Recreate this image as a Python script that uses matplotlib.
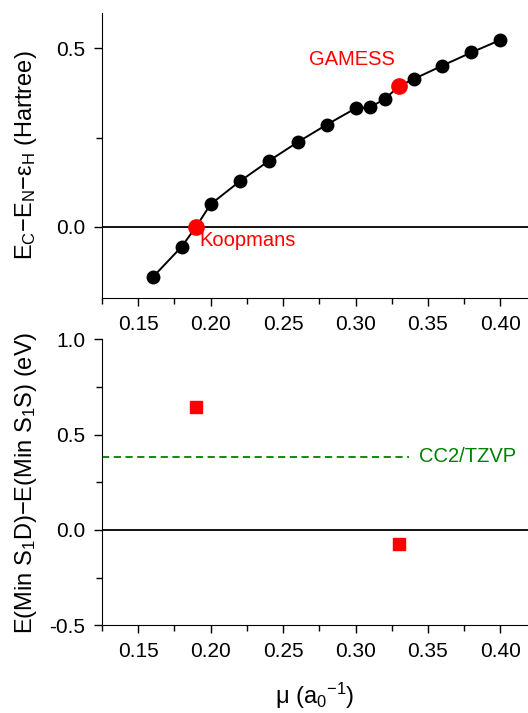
import matplotlib.pyplot as plt
import numpy as np

plt.rcParams['font.family'] = ['Liberation Sans', 'DejaVu Sans']
plt.rcParams['mathtext.fontset'] = 'custom'
plt.rcParams['mathtext.rm'] = 'Liberation Sans'
plt.rcParams['mathtext.it'] = 'Liberation Sans'

# range-separation parameter scan
mu = [0.16, 0.18, 0.19, 0.20, 0.22, 0.24, 0.26, 0.28, 0.30, 0.31, 0.32, 0.33, 0.34, 0.36, 0.38, 0.40]
gap = [-0.142, -0.056, 0.0, 0.063, 0.127, 0.184, 0.237, 0.286, 0.332, 0.335, 0.358, 0.394, 0.414, 0.452, 0.489, 0.524]

special_mu = [0.19, 0.33]
special_gap = [0.0, 0.394]
special_names = ["Koopmans", "GAMESS"]

# S1 minimum energy differences
diff_mu = [0.19, 0.33]
diff_ev = [0.645, -0.073]
cc2_ref = 0.385

fig = plt.figure(figsize=(5.28, 7.13), dpi=100)
ax1 = fig.add_axes([0.193, 0.582, 0.807, 0.400])
ax2 = fig.add_axes([0.193, 0.123, 0.807, 0.401])

fs = 15
for ax in (ax1, ax2):
    ax.spines['top'].set_visible(False)
    ax.spines['right'].set_visible(False)
    ax.tick_params(direction='out', labelsize=fs, length=6, width=1, pad=6)
    ax.tick_params(which='minor', direction='out', length=4, width=1)
    ax.set_xlim(0.125, 0.419)
    ax.set_xticks(np.arange(0.15, 0.41, 0.05))
    ax.set_xticks(np.arange(0.125, 0.42, 0.025), minor=True)
    ax.xaxis.set_major_formatter(plt.FormatStrFormatter('%.2f'))
    ax.axhline(0, color='black', lw=1.3, zorder=1)

ax1.plot(mu, gap, '-o', color='black', ms=9, lw=1.4, zorder=2)
ax1.plot(special_mu, special_gap, 'o', color='red', ms=11, zorder=3)
ax1.text(0.1925, -0.012, special_names[0], color='red', fontsize=14.5, va='top', ha='left')
ax1.text(0.327, 0.468, special_names[1], color='red', fontsize=14.5, va='center', ha='right')
ax1.set_ylim(-0.2, 0.6)
ax1.set_yticks([0.0, 0.5])
ax1.set_yticks([0.25], minor=True)
ax1.yaxis.set_major_formatter(plt.FormatStrFormatter('%.1f'))
ax1.set_ylabel(r'E$_\mathrm{C}$$-$E$_\mathrm{N}$$-\varepsilon_\mathrm{H}$ (Hartree)', fontsize=17)

ax2.plot(diff_mu, diff_ev, 's', color='red', ms=9, zorder=3)
ax2.plot([0.125, 0.337], [cc2_ref, cc2_ref], '--', color='green', lw=1.3, dashes=(4, 2.5))
ax2.text(0.344, cc2_ref, "CC2/TZVP", color='green', fontsize=14.5, va='center', ha='left')
ax2.set_ylim(-0.5, 1.0)
ax2.set_yticks([-0.5, 0.0, 0.5, 1.0])
ax2.set_yticklabels(['-0.5', '0.0', '0.5', '1.0'])
ax2.set_yticks([-0.25, 0.25, 0.75], minor=True)
ax2.set_ylabel(r'E(Min S$_1$D)$-$E(Min S$_1$S) (eV)', fontsize=17)
ax2.set_xlabel(r'$\mu$ (a$_0$$^{-1}$)', fontsize=17, labelpad=14)

for ax in (ax1, ax2):
    ax.yaxis.set_label_coords(-0.148, 0.5)

fig.savefig('out.png', dpi=100)
